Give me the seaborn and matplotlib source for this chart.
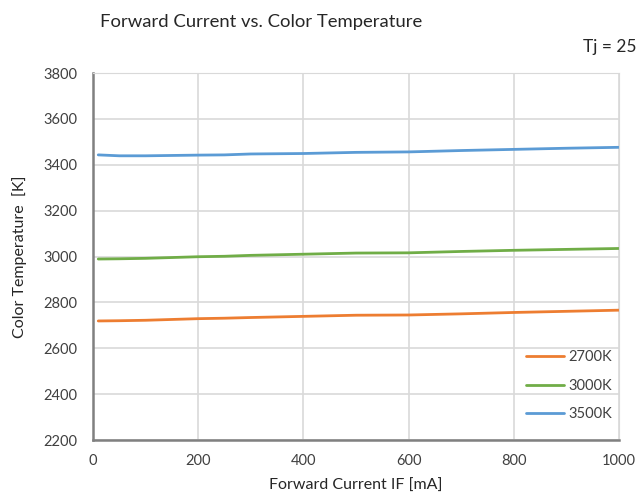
import pandas as pd
import matplotlib
matplotlib.use("Agg")
import matplotlib.pyplot as plt
import seaborn as sns

# Data
current_ma = [10, 50, 100, 200, 250, 300, 400, 500, 600, 700, 800, 900, 1000]
cct_2700 = [2719, 2720, 2722, 2729, 2731, 2734, 2739, 2744, 2745, 2750, 2756, 2761, 2766]
cct_3000 = [2989, 2990, 2992, 2999, 3001, 3005, 3010, 3015, 3016, 3022, 3027, 3031, 3035]
cct_3500 = [3443, 3439, 3439, 3442, 3443, 3447, 3449, 3454, 3456, 3462, 3467, 3472, 3476]
series_names = ["2700K", "3000K", "3500K"]
palette = {"2700K": "#ED7D31", "3000K": "#70AD47", "3500K": "#5B9BD5"}

df = pd.concat([
    pd.DataFrame({"current": current_ma, "cct": vals, "series": name})
    for name, vals in zip(series_names, [cct_2700, cct_3000, cct_3500])
])

sns.set_style("white")
plt.rcParams['font.family'] = ['Lato', 'DejaVu Sans']

fig = plt.figure(figsize=(6.38, 4.95), dpi=100)
ax = fig.add_axes([93 / 638, 55 / 495, 526 / 638, 367 / 495])

sns.lineplot(data=df, x="current", y="cct", hue="series", hue_order=series_names,
             palette=palette, linewidth=2, ax=ax)

ax.set_xlim(0, 1000)
ax.set_ylim(2200, 3800)
ax.set_xticks(range(0, 1001, 200))
ax.set_yticks(range(2200, 3801, 200))
ax.grid(True, color="#D9D9D9", linewidth=1.2)
ax.set_axisbelow(True)
ax.tick_params(axis="both", length=0, labelsize=10.5, colors="#404040")
ax.tick_params(axis="y", pad=11)
ax.tick_params(axis="x", pad=10)

for side in ["top", "right"]:
    ax.spines[side].set_color("#D9D9D9")
ax.spines["left"].set_color("#808080")
ax.spines["left"].set_linewidth(1.8)
ax.spines["bottom"].set_color("#808080")
ax.spines["bottom"].set_linewidth(1.8)

ax.set_xlabel("Forward Current IF [mA]", fontsize=11.5, color="#262626", labelpad=8)
ax.set_ylabel("Color Temperature  [K]", fontsize=11.5, color="#262626", labelpad=12)

fig.text(0.41, 0.955, "Forward Current vs. Color Temperature", ha="center", va="center",
         fontsize=13.3, color="#262626")
fig.text(0.997, 0.905, "Tj = 25", ha="right", va="center", fontsize=12.5, color="#262626")

leg = ax.legend(loc="lower right", frameon=False, fontsize=10.5, handlelength=2.6,
                handletextpad=0.3, labelspacing=1.0, bbox_to_anchor=(1.012, 0.015))
for t in leg.get_texts():
    t.set_color("#404040")

fig.savefig("out.png", dpi=100)
